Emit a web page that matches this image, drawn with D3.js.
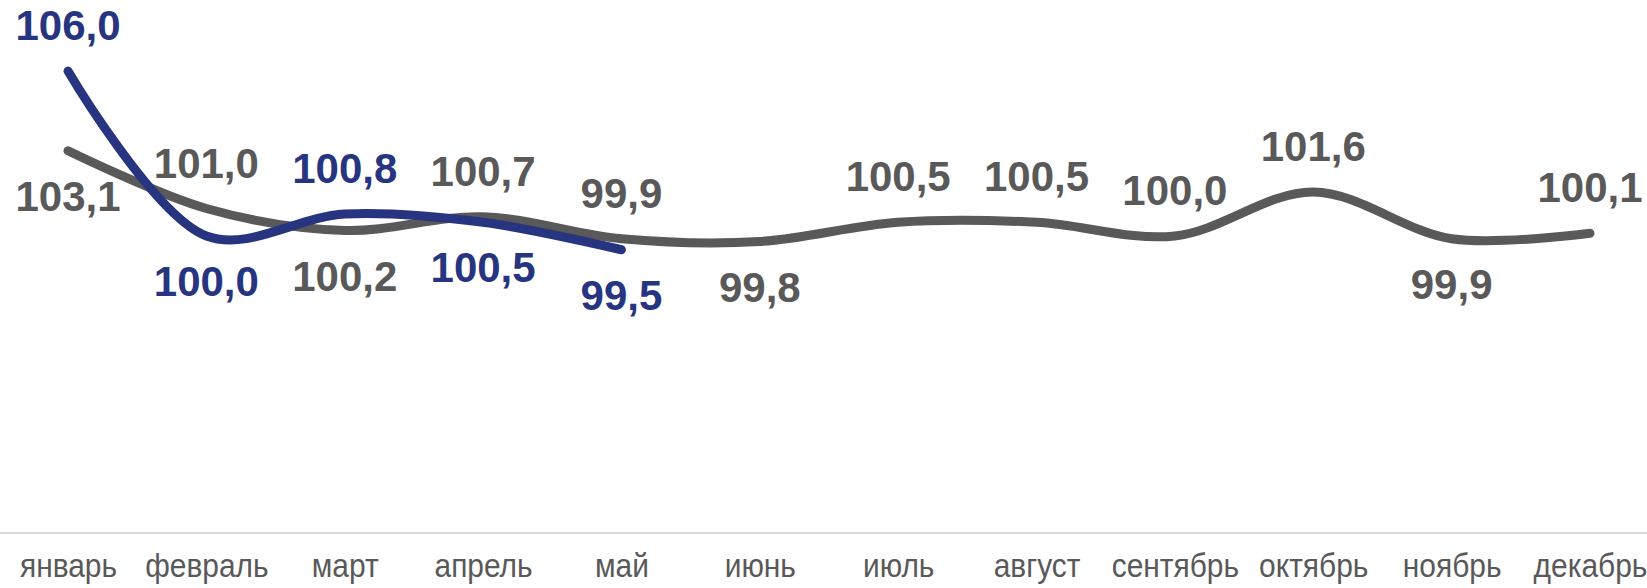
<!DOCTYPE html>
<html>
<head>
<meta charset="utf-8">
<script src="https://cdn.jsdelivr.net/npm/d3@7"></script>
<style>
  body { margin: 0; background: #fff; }
  svg { display: block; }
</style>
</head>
<body>
<svg id="chart" width="1647" height="588"></svg>
<script>
// months on the x axis
const months = ['январь', 'февраль', 'март', 'апрель', 'май', 'июнь', 'июль', 'август', 'сентябрь', 'октябрь', 'ноябрь', 'декабрь'];
// previous year (gray) and current year (blue), % to previous month
const prevYear = [103.1, 101.0, 100.2, 100.7, 99.9, 99.8, 100.5, 100.5, 100.0, 101.6, 99.9, 100.1];
const curYear = [106.0, 100.0, 100.8, 100.5, 99.5];
// where each value label sits relative to its point
const prevLabelSide = ['below', 'above', 'below', 'above', 'above', 'below', 'above', 'above', 'above', 'above', 'below', 'above'];
const curLabelSide = ['above', 'below', 'above', 'below', 'below'];

const grayColor = '#595959';
const blueColor = '#27347f';
const fmt = v => d3.format('.1f')(v).replace('.', ',');

const svg = d3.select('#chart');

const x = d3.scalePoint().domain(months).range([68, 1590]);
const y = d3.scaleLinear().domain([89.2, 107]).range([533, 43.5]);

// x axis line and month labels
svg.append('line')
    .attr('x1', 0).attr('x2', 1647)
    .attr('y1', 533).attr('y2', 533)
    .attr('stroke', '#d9d9d9')
    .attr('stroke-width', 2);
const xAxis = svg.append('g')
    .attr('transform', 'translate(0,533)')
    .call(d3.axisBottom(x).tickSize(0).tickPadding(20));
xAxis.select('.domain').remove();
// month names are tall and narrow in the original
xAxis.selectAll('text')
    .attr('font-family', 'Liberation Sans, Arial, sans-serif')
    .attr('font-size', 34)
    .attr('fill', grayColor)
    .attr('transform', 'scale(0.88,1)');

const line = d3.line()
    .x((d, i) => x(months[i]))
    .y(d => y(d))
    .curve(d3.curveCatmullRom.alpha(0.5));

function drawSeries(values, color) {
    svg.append('path')
        .datum(values)
        .attr('d', line)
        .attr('fill', 'none')
        .attr('stroke', color)
        .attr('stroke-width', 9)
        .attr('stroke-linecap', 'round');
}

function drawLabels(values, sides, color) {
    svg.append('g').selectAll('text')
        .data(values)
        .enter()
        .append('text')
        .attr('x', (d, i) => x(months[i]))
        .attr('y', (d, i) => sides[i] === 'above' ? y(d) - 31 : y(d) + 60)
        .attr('text-anchor', 'middle')
        .attr('font-family', 'Liberation Sans, Arial, sans-serif')
        .attr('font-weight', 'bold')
        .attr('font-size', 42)
        .attr('fill', color)
        .text(d => fmt(d));
}

drawSeries(prevYear, grayColor);
drawSeries(curYear, blueColor);
drawLabels(prevYear, prevLabelSide, grayColor);
drawLabels(curYear, curLabelSide, blueColor);
</script>
</body>
</html>
